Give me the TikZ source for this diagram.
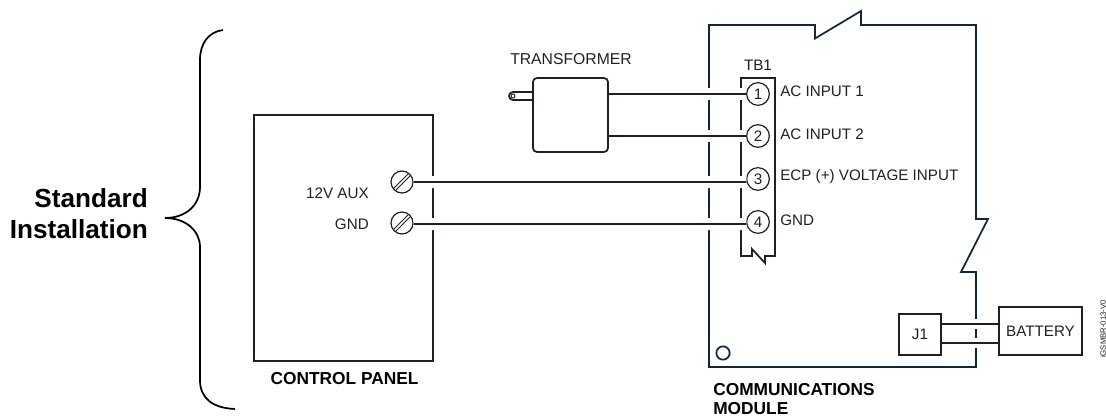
\documentclass[tikz,border=0pt]{standalone}
\usepackage{fontspec}
\usepackage{xcolor}
\setmainfont{Liberation Sans}
\definecolor{linetext}{HTML}{231F20}
\definecolor{boardline}{HTML}{14263A}
\tikzset{
    label/.style={inner sep=0pt, text=linetext, font=\fontsize{11.4}{13}\selectfont},
    heading/.style={inner sep=0pt, text=black, font=\fontsize{13}{13.8}\bfseries\selectfont, align=left},
    boxpart/.style={draw=linetext, line width=1.3pt, inner sep=0pt},
    terminal/.style={shape=circle, draw=linetext, line width=0.9pt, minimum size=17pt, inner sep=0pt,
        text=linetext, font=\fontsize{11.4}{13}\selectfont},
    screw/.style={shape=circle, draw=linetext, line width=0.9pt, minimum size=16.5pt, inner sep=0pt,
        path picture={
            \draw[line width=0.7pt] (-7.5pt,-6pt) -- (6pt,7.5pt);
            \draw[line width=0.7pt] (-6pt,-7.5pt) -- (7.5pt,6pt);
        }},
    wire/.style={draw=linetext, line width=1.3pt, preaction={draw=white, line width=#1}},
    wire/.default=9pt,
}
\begin{document}
\begin{tikzpicture}[x=0.75pt, y=-0.75pt]
        \useasboundingbox (0,0) rectangle (1106,416);
        \def\tbx{758}
        \def\labx{780}
        % Brace
        \draw[line width=1.3pt, black] (223,30) .. controls (208,32) and (200,44) .. (200,60)
            -- (200,187) .. controls (200,205) and (186,218) .. (165,218)
            .. controls (186,218) and (200,231) .. (200,247)
            -- (200,380) .. controls (200,398) and (212,408) .. (235,409);
        \node[inner sep=0pt, anchor=east, align=right, font=\fontsize{19.6}{23.2}\bfseries\selectfont] (T) at (148,213.5) {Standard\\Installation};
        % Boards
        \draw[boxpart, draw=boardline] (709,25) -- (815,25) -- (815,38.5) -- (861,11) -- (861,25) -- (976,25)
            -- (976,219) -- (988,219) -- (961,272) -- (976,272) -- (976,367) -- (709,367) -- cycle;
        \draw[boxpart] (741,78) -- (775,78) -- (775,256) -- (765,256) -- (765,263) -- (752,249) -- (752,256) -- (741,256) -- cycle;
        \node[boxpart, minimum width=134.25pt, minimum height=184.5pt] (P) at (343.5,238) {};
        \node[draw=boardline, line width=1.3pt, shape=circle, minimum size=10pt, inner sep=0pt] (H) at (723,353) {};
        % Transformer
        \draw[boxpart] (533,92) -- (513,92) arc[start angle=270, end angle=90, radius=4] -- (533,100);
        \node[draw=linetext, line width=0.7pt, shape=circle, minimum size=3pt, inner sep=0pt] (Q) at (513,96) {};
        \node[boxpart, fill=white, rounded corners=3pt, minimum width=56.25pt, minimum height=55.5pt] (X) at (570.5,115) {};
        % Terminals
        \node[terminal] (A) at (\tbx,94) {1};
        \node[terminal] (B) at (\tbx,136) {2};
        \node[terminal] (C) at (\tbx,179) {3};
        \node[terminal] (D) at (\tbx,222) {4};
        \node[screw] (S) at (402,182) {};
        \node[screw] (G) at (402,223) {};
        \node[boxpart, minimum width=31.5pt, minimum height=30.75pt] (J) at (920,334.5) {};
        \node[boxpart, minimum width=62.25pt, minimum height=36pt] (Y) at (1040.5,331) {};
        % Wires
        \path[wire] (X.east |- A) -- (A.west);
        \path[wire] (X.east |- B) -- (B.west);
        \path[wire] (S.east) -- (C.195);
        \path[wire] (G.355) -- (D.190);
        \path[wire=7.5pt] (J.east |- 0,324) -- (Y.west |- 0,324);
        \path[wire=7.5pt] (J.east |- 0,343) -- (Y.west |- 0,343);
        % Labels
        \node[label, anchor=west] (TR) at (510,59) {\fontsize{11.8}{13}\selectfont TRANSFORMER};
        \node[label] (TB) at (\tbx,65) {TB1};
        \node[label, anchor=west] (L1) at (\labx,91) {AC INPUT 1};
        \node[label, anchor=west] (L2) at (\labx,134) {AC INPUT 2};
        \node[label, anchor=west] (L3) at (\labx,177) {ECP (+) VOLTAGE INPUT};
        \node[label, anchor=west] (L4) at (\labx,220) {GND};
        \node[label, anchor=east] (AUX) at (369,193.5) {12V AUX};
        \node[label, anchor=east] (GN) at (369,224) {GND};
        \node[label] (JL) at (J) {J1};
        \node[label] (BT) at (Y) {BATTERY};
        \node[heading] (CP) at (344.5,379) {CONTROL PANEL};
        \node[heading, anchor=west] (CM) at (713,399) {COMMUNICATIONS\\MODULE};
        \node[inner sep=0pt, rotate=90, text=linetext, font=\fontsize{5.8}{7}\selectfont] (ID) at (1103,329) {iGSMBR-013-V0};
    \end{tikzpicture}
\end{document}
